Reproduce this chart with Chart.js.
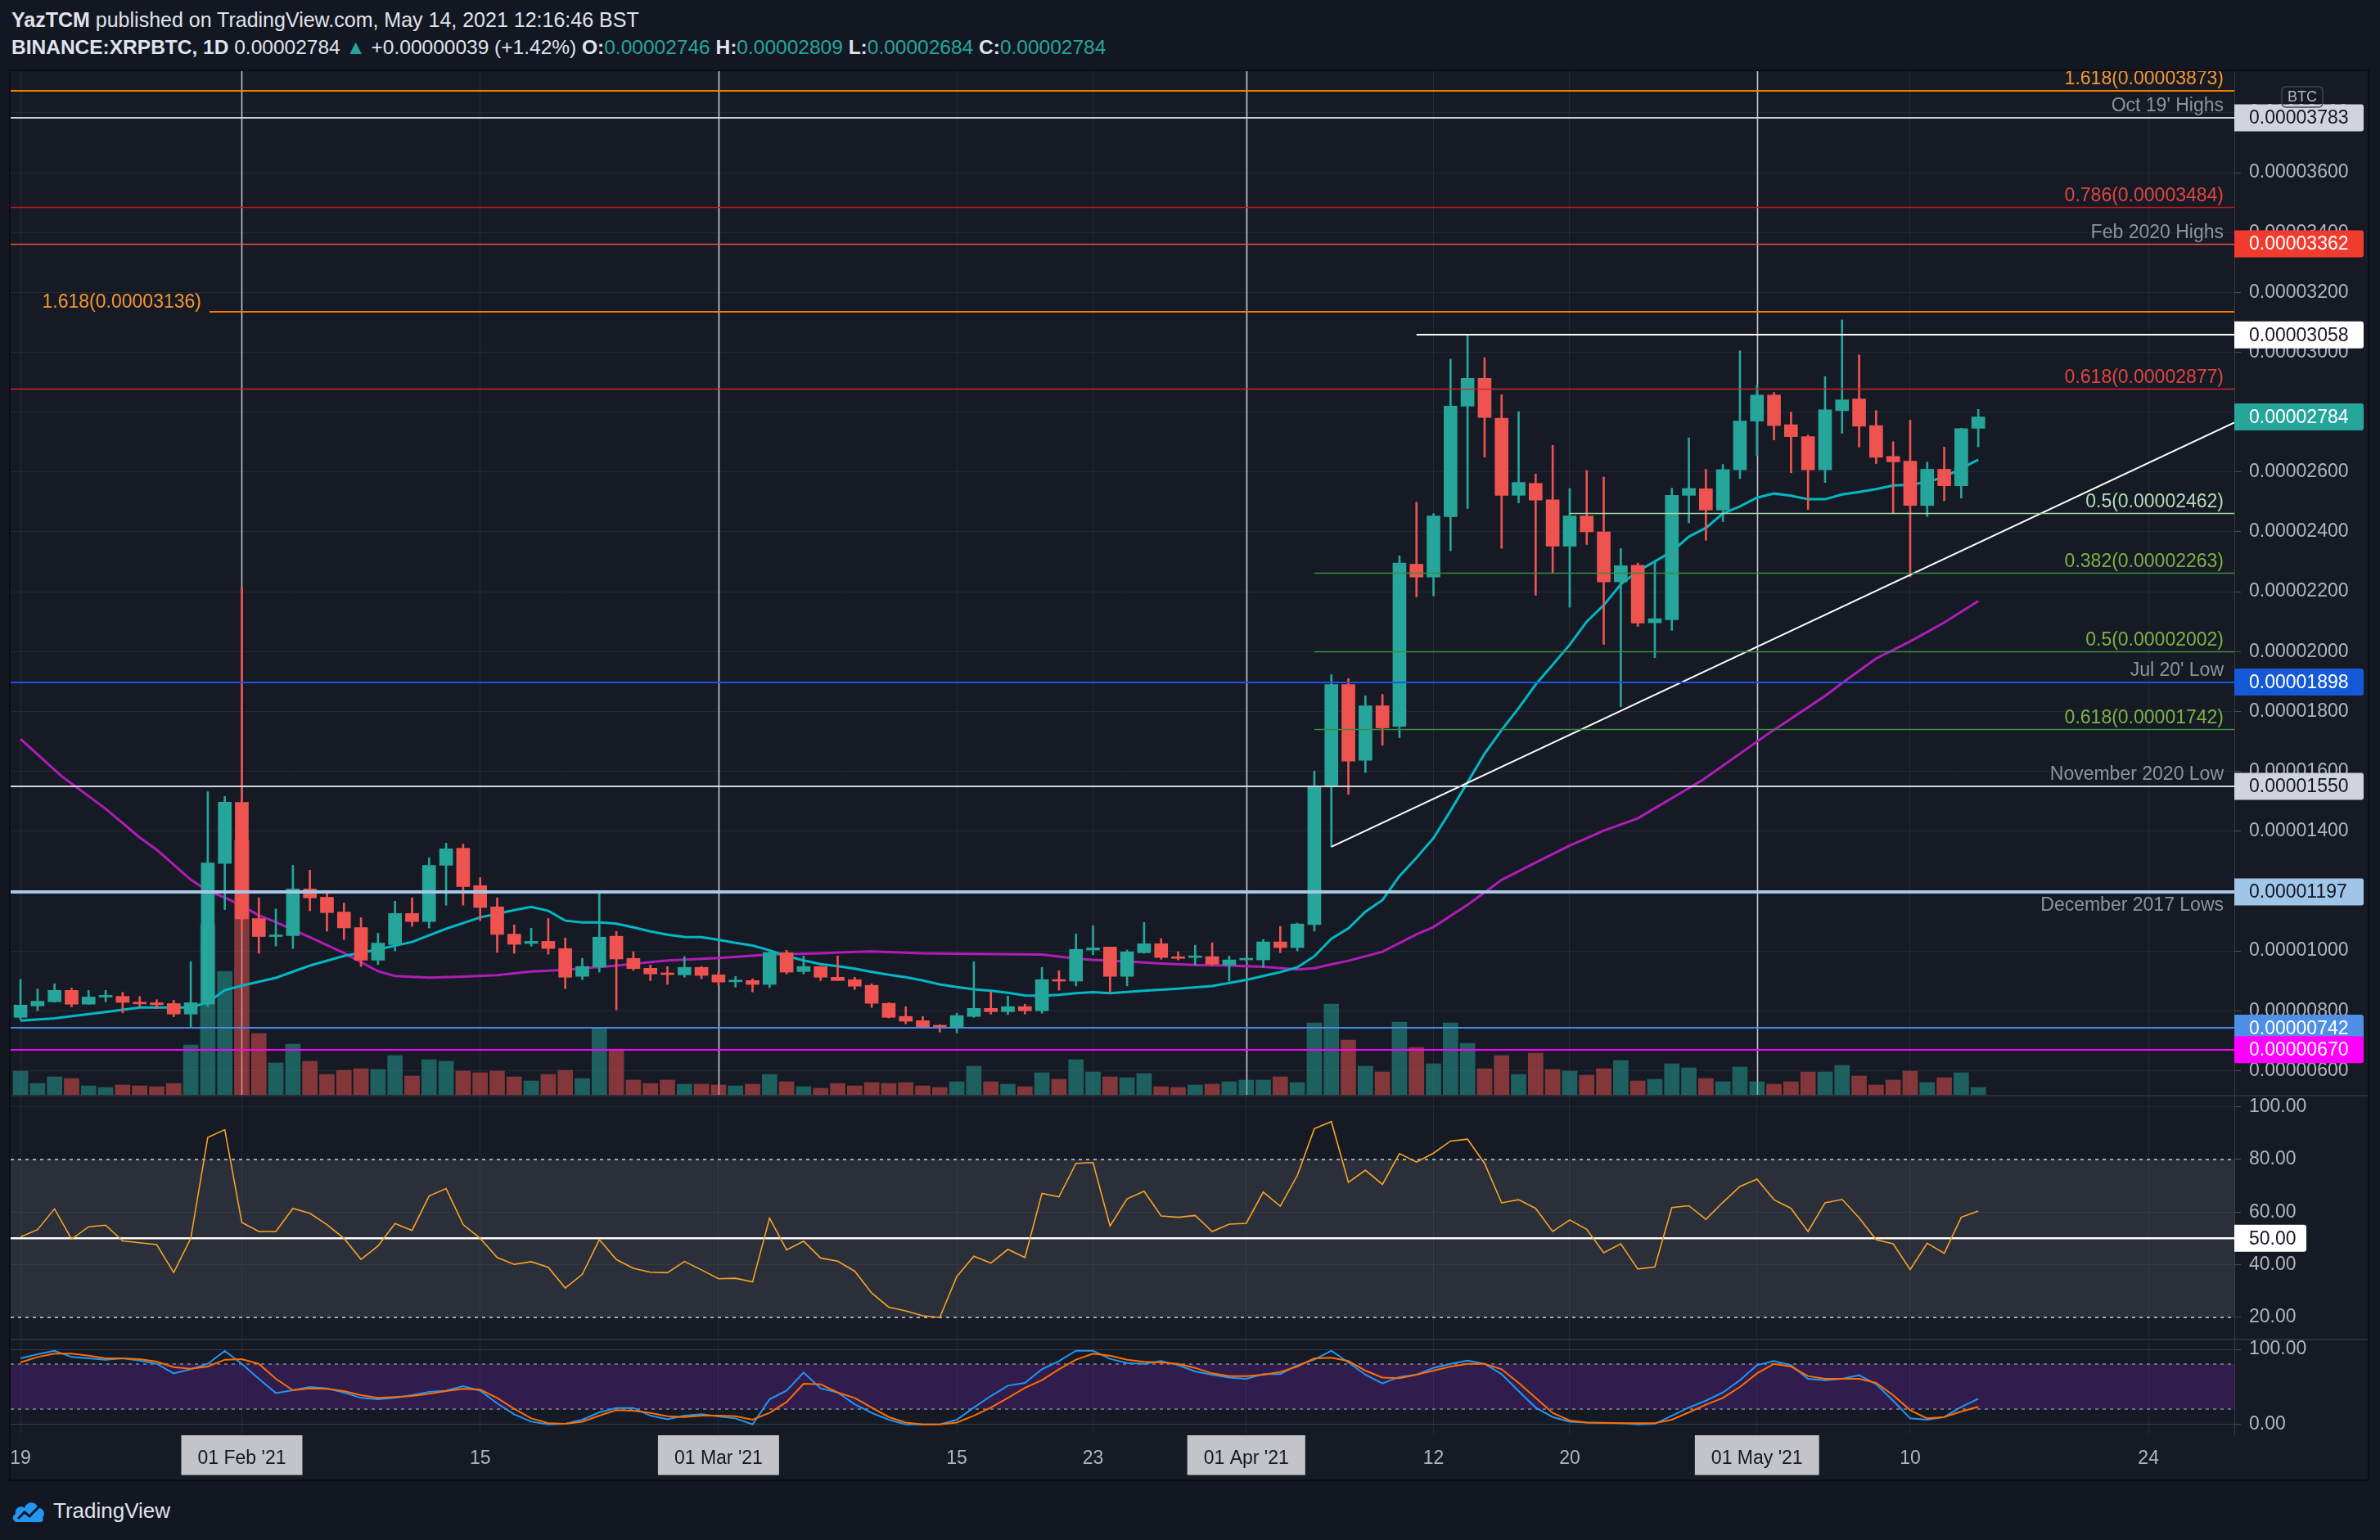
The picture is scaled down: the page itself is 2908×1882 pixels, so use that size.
<!DOCTYPE html>
<html>
<head>
<meta charset="utf-8">
<title>BINANCE:XRPBTC, 1D</title>
<script src="https://cdn.jsdelivr.net/npm/chart.js@4.4.0/dist/chart.umd.min.js"></script>
<style>
    html, body { margin: 0; padding: 0; background: #131722; }
    body {
        width: 2908px; height: 1882px; overflow: hidden; position: relative;
        font-family: 'Liberation Sans', Arial, sans-serif; color: #e0e3eb;
    }
    .header { position: absolute; left: 14px; font-size: 25px; line-height: 30px; white-space: nowrap; }
    #line1 { top: 9px; }
    #line2 { top: 43px; font-size: 24.5px; }
    .up { color: #26a69a; }
    #frame {
        position: absolute; left: 11px; top: 85px; width: 2880px; height: 1721px;
        border: 2px solid #0b0d13; background: #2a2e39;
    }
    #frame canvas { position: absolute; left: 0; background: #161a25; }
    #footer { position: absolute; left: 14px; top: 1829px; display: flex; align-items: center; font-size: 26px; color: #e0e3eb; }
    #footer svg { margin-right: 9px; }
</style>
</head>
<body>
<div class="header" id="line1"><b>YazTCM</b> published on TradingView.com, May 14, 2021 12:16:46 BST</div>
<div class="header" id="line2"><b>BINANCE:XRPBTC, 1D</b> 0.00002784 <span class="up">&#9650;</span> +0.00000039 (+1.42%) <b>O:</b><span class="up">0.00002746</span> <b>H:</b><span class="up">0.00002809</span> <b>L:</b><span class="up">0.00002684</span> <b>C:</b><span class="up">0.00002784</span></div>

<div id="frame">
    <canvas id="priceChart" width="2880" height="1251" style="top:0"></canvas>
    <canvas id="rsiChart" width="2880" height="296" style="top:1253px"></canvas>
    <canvas id="stochChart" width="2880" height="170" style="top:1551px"></canvas>
</div>

<div id="footer">
    <svg width="42" height="34" viewBox="0 0 42 34"><path d="M7 31 C1 31 0 23 5 21 C4 13 12 10 16 14 C18 5 31 5 32 14 C39 13 42 21 38 26 C40 30 37 31 35 31 Z" fill="#2196f3"/><path d="M8 27 L16 19 L22 24 L33 13" stroke="#131722" stroke-width="3" fill="none"/></svg>
    <span>TradingView</span>
</div>

<script>
/**=================
 * Data
 * prices in satoshi (1 = 0.00000001 BTC), day 0 = 19 Jan 2021
 =================*/
const openSat = [
    778, 816, 830, 868, 822, 846, 848, 829, 827, 824,
    789, 822, 1292, 1496, 1108, 1048, 1051, 1207, 1179, 1130,
    1078, 969, 1021, 1125, 1098, 1286, 1343, 1218, 1147, 1056,
    1025, 1032, 1008, 915, 946, 1049, 975, 942, 923, 920,
    945, 920, 897, 901, 888, 994, 931, 948, 912, 904,
    885, 825, 781, 767, 748, 746, 781, 808, 797, 814,
    800, 904, 899, 1003, 1013, 915, 994, 1024, 980, 978,
    981, 953, 970, 970, 1030, 1011, 1088, 1551, 1890, 1637,
    1819, 1750, 2292, 2249, 2451, 2820, 2913, 2780, 2522, 2562,
    2507, 2352, 2453, 2400, 2233, 2288, 2096, 2106, 2522, 2544,
    2473, 2607, 2770, 2857, 2758, 2718, 2607, 2805, 2844, 2755,
    2652, 2636, 2488, 2609, 2554, 2746
];
const highSat = [
    905, 873, 890, 876, 868, 868, 862, 848, 837, 835,
    964, 1532, 1516, 2215, 1177, 1140, 1286, 1270, 1195, 1160,
    1111, 1059, 1166, 1177, 1311, 1360, 1357, 1245, 1177, 1087,
    1076, 1108, 1043, 975, 1197, 1065, 997, 953, 948, 981,
    948, 929, 915, 907, 998, 1002, 983, 948, 983, 912,
    890, 827, 814, 781, 754, 792, 964, 863, 849, 822,
    945, 934, 1057, 1084, 1013, 1003, 1095, 1041, 997, 1019,
    1027, 983, 973, 1038, 1082, 1093, 1601, 1923, 1910, 1852,
    1857, 2320, 2499, 2461, 2977, 3057, 2982, 2858, 2802, 2593,
    2689, 2545, 2605, 2583, 2344, 2296, 2298, 2546, 2714, 2609,
    2625, 3005, 2890, 2866, 2800, 2723, 2919, 3108, 2991, 2805,
    2701, 2773, 2633, 2683, 2746, 2809
];
const lowSat = [
    770, 800, 829, 813, 822, 830, 793, 814, 807, 780,
    746, 814, 1138, 1065, 992, 1016, 1008, 1134, 1066, 1038,
    948, 954, 1000, 1082, 1077, 1153, 1153, 1101, 995, 992,
    1016, 989, 874, 904, 929, 803, 935, 901, 888, 912,
    907, 885, 879, 863, 877, 923, 923, 901, 901, 871,
    811, 776, 756, 746, 729, 726, 778, 789, 787, 789,
    792, 869, 883, 987, 859, 883, 992, 972, 970, 953,
    951, 899, 966, 945, 994, 1000, 1066, 1348, 1523, 1596,
    1687, 1712, 2183, 2186, 2337, 2478, 2650, 2345, 2497, 2188,
    2262, 2148, 2358, 2024, 1816, 2084, 1980, 2071, 2430, 2372,
    2434, 2578, 2655, 2707, 2597, 2475, 2565, 2729, 2683, 2628,
    2461, 2250, 2451, 2504, 2513, 2684
];
const closeSat = [
    819, 832, 868, 822, 846, 848, 828, 823, 820, 789,
    827, 1294, 1497, 1107, 1048, 1051, 1207, 1177, 1128, 1077,
    969, 1026, 1125, 1098, 1286, 1341, 1215, 1145, 1055, 1022,
    1032, 1008, 912, 948, 1046, 973, 941, 923, 921, 945,
    918, 896, 899, 888, 995, 929, 948, 912, 901, 882,
    825, 778, 765, 746, 746, 784, 808, 797, 814, 800,
    904, 899, 1005, 1010, 915, 997, 1024, 978, 975, 983,
    956, 970, 971, 1030, 1011, 1090, 1551, 1890, 1634, 1819,
    1745, 2296, 2249, 2453, 2820, 2913, 2782, 2522, 2565, 2506,
    2352, 2453, 2400, 2233, 2287, 2095, 2110, 2522, 2545, 2473,
    2608, 2770, 2857, 2755, 2718, 2607, 2808, 2841, 2753, 2649,
    2634, 2488, 2609, 2554, 2745, 2784
];
const volume = [
    29, 14, 22, 20, 11, 9, 12, 11, 10, 14,
    61, 208, 151, 311, 75, 39, 62, 41, 25, 30,
    32, 31, 48, 23, 43, 41, 29, 27, 29, 22,
    17, 25, 30, 20, 81, 56, 18, 14, 18, 13,
    13, 12, 11, 13, 25, 16, 10, 8, 14, 11,
    15, 14, 15, 11, 9, 16, 35, 16, 13, 10,
    27, 19, 43, 28, 22, 21, 26, 10, 9, 12,
    13, 16, 18, 18, 22, 15, 88, 111, 67, 35,
    28, 89, 58, 38, 88, 63, 32, 48, 25, 51,
    31, 29, 24, 32, 42, 17, 19, 38, 33, 20,
    16, 34, 16, 13, 16, 28, 28, 36, 23, 12,
    18, 29, 15, 21, 27, 9
];

// cyan moving average
const emaDays = [
    0, 2, 5, 7, 10, 11, 12, 13, 15, 17, 19, 21, 23, 25, 27, 29,
    30, 31, 32, 33, 34, 35, 36, 37, 38, 39, 40, 41, 42, 43, 44, 45, 46, 47, 48, 49,
    50, 51, 52, 53, 54, 55, 56, 57, 58, 59, 60, 61, 62, 63, 64, 66, 68, 70, 72, 74,
    75, 76, 77, 78, 79, 80, 81, 82, 83, 84, 85, 86, 87, 88, 89, 90, 91, 92, 93, 94,
    95, 96, 97, 98, 99, 100, 101, 102, 103, 104, 105, 106, 107, 108, 109, 110, 111, 112, 113, 114, 115
];
const emaSat = [
    767, 775, 796, 811, 811, 828, 869, 884, 910, 951, 983, 1005, 1030, 1074, 1112, 1136,
    1147, 1134, 1101, 1095, 1095, 1091, 1079, 1065, 1054, 1047, 1046, 1037, 1027, 1018, 1002, 983, 968, 956, 949, 941,
    930, 920, 912, 901, 888, 879, 872, 867, 860, 851, 850, 853, 859, 862, 859, 867, 874, 883, 903, 929,
    945, 982, 1041, 1075, 1131, 1170, 1250, 1311, 1377, 1468, 1563, 1659, 1738, 1811, 1890, 1956, 2023, 2100, 2155, 2225,
    2269, 2301, 2334, 2384, 2413, 2461, 2485, 2514, 2528, 2521, 2509, 2509, 2525, 2533, 2543, 2555, 2557, 2567, 2583, 2612, 2641
];

// magenta moving average
const smaDays = [
    0, 2.4, 5, 7, 8, 10, 11, 12, 13, 14, 15, 17, 19, 21, 22, 24, 26, 28, 30, 32,
    35, 38, 41, 44, 47, 49, 50, 53, 56, 60, 62, 63, 65, 67, 69, 71, 73, 75, 76, 77,
    78, 80, 82, 83, 85, 87, 89, 91, 93, 95, 96, 97, 98.8, 102.6, 104, 106, 107, 109, 111, 113, 115
];
const smaSat = [
    1708, 1584, 1475, 1379, 1338, 1238, 1201, 1178, 1151, 1119, 1096, 1046, 993, 932, 916, 911, 914, 919, 931, 937,
    951, 968, 976, 988, 992, 997, 998, 992, 990, 988, 974, 970, 965, 958, 953, 951, 947, 938, 942, 955,
    967, 997, 1055, 1080, 1154, 1237, 1295, 1352, 1402, 1443, 1477, 1510, 1571, 1723, 1776, 1852, 1895, 1977, 2034, 2097, 2169
];

const rsiValues = [
    50.5, 53.3, 61.2, 49.7, 54.4, 55, 49, 48.3, 47.6, 37,
    50, 88.4, 91.3, 56, 52.6, 52.6, 61.4, 59.5, 55.2, 50,
    42, 47.1, 55.6, 53, 66.1, 68.9, 55.2, 50, 42.7, 40.1,
    41.1, 39, 31.1, 36.3, 49.5, 41.9, 38.6, 37.1, 36.9, 41.2,
    38, 34.6, 34.8, 33.4, 57.7, 45.6, 48.9, 42.5, 41.3, 37.5,
    29.2, 23.8, 22.4, 20.5, 19.9, 35.5, 43.2, 40.6, 45.8, 42.7,
    67.1, 65.8, 78.5, 78.8, 54.7, 65, 67.9, 58.5, 58, 58.7,
    52.6, 55.4, 55.7, 67.6, 62.2, 73.9, 91.7, 94.4, 71.3, 75.9,
    70.5, 82.2, 79, 82.4, 87, 87.7, 78.5, 63.5, 64.7, 61.4,
    52.6, 57, 53.4, 44.5, 47.9, 38.3, 39.1, 61.7, 62.4, 57.2,
    63.7, 69.7, 72.5, 64.7, 61.4, 52.6, 63.5, 64.8, 57.8, 49.5,
    47.9, 38.1, 48.1, 44.3, 58, 60.4
];
const stochK = [
    88, 93.5, 98, 89.8, 88, 86, 88, 85, 80.7, 68,
    73.5, 80.7, 97.8, 80.7, 60.7, 41.8, 45.5, 49.8, 48, 42.5,
    35.3, 33.5, 35.3, 38.9, 43.3, 45, 51, 45, 28, 13.5,
    3.6, 0, 0.7, 6.2, 16, 21.8, 21.8, 11.6, 6.9, 11.6,
    13.5, 10.5, 8, 0, 33.5, 45, 69.1, 48, 42.5, 26.9,
    15.3, 6.2, 0, 0, 0, 6.2, 22.5, 37.8, 51.6, 55.3,
    73.5, 84.4, 98.2, 98.2, 87.3, 81.8, 80.7, 84.4, 78.9, 70.5,
    66.2, 62.5, 60.7, 66.9, 66.9, 78.9, 86.2, 98.2, 82.5, 66.2,
    54.5, 63.3, 66.2, 75.3, 80.7, 85.1, 80.7, 66.9, 44.4, 22.5,
    9.8, 3.6, 2.5, 1.8, 1.5, 0, 0.7, 11.6, 22.5, 31.6,
    42.5, 58.9, 78.9, 84.4, 78.9, 60.7, 58.9, 60.7, 65.5, 53.5,
    31.6, 8, 6.2, 9.8, 23.3, 34.2
];
const stochD = [
    82.5, 89.8, 94.2, 94.2, 91.6, 88, 88, 86.9, 83.6, 76.4,
    74.2, 77.1, 86.2, 86.9, 80.7, 60.7, 45.5, 48, 47.3, 44.4,
    38.9, 35.3, 36.4, 37.8, 40.7, 44.4, 47.3, 46.2, 35.3, 20.7,
    8, 1.5, 0.7, 3.6, 11.6, 18.9, 18.2, 15.3, 10.9, 9.8,
    11.6, 11.6, 10.9, 6.2, 15.3, 29.8, 54.2, 53.5, 42.5, 35.3,
    22.5, 9.8, 2.5, 0, 0, 2.5, 11.6, 22.5, 35.3, 48.7,
    58.9, 73.5, 86.2, 94.2, 91.6, 86.2, 83.3, 82.5, 80.7, 75.3,
    68, 64.4, 64.4, 66.2, 69.8, 77.1, 88, 88.7, 84.4, 71.6,
    62.5, 61.5, 66.2, 71.6, 77.1, 80.7, 80.7, 73.5, 55.3, 35.3,
    15.3, 5.1, 2.5, 2.2, 1.5, 1.5, 1.5, 6.2, 16, 26.2,
    35.3, 49.8, 68, 80.7, 77.1, 64.4, 60.7, 60.7, 60.7, 55.3,
    38.9, 18.9, 8, 9.8, 17.1, 23.3
];

const tickDays = [0, 13, 27, 41, 55, 63, 72, 83, 91, 102, 111, 125];
const tickLabels = ['19', "01 Feb '21", '15', "01 Mar '21", '15', '23', "01 Apr '21", '12', '20', "01 May '21", '10', '24'];
const markedDays = [13, 41, 72, 102];
const priceTicks = [600, 800, 1000, 1200, 1400, 1600, 1800, 2000, 2200, 2400, 2600, 2800, 3000, 3200, 3400, 3600, 3800];
const rsiTicks = [20, 40, 60, 80, 100];
const stochTicks = [0, 100];

// horizontal levels drawn by the author
const levelSat = [3873, 3783, 3484, 3362, 3136, 3058, 2877, 2462, 2263, 2002, 1898, 1742, 1550, 1197, 742, 670];
const levelNames = [
    '1.618(0.00003873)', "Oct 19' Highs", '0.786(0.00003484)', 'Feb 2020 Highs', '1.618(0.00003136)', '',
    '0.618(0.00002877)', '0.5(0.00002462)', '0.382(0.00002263)', '0.5(0.00002002)', "Jul 20' Low",
    '0.618(0.00001742)', 'November 2020 Low', 'December 2017 Lows', '', ''
];
const levelFromDay = [null, null, null, null, 11.1, 82, null, 91, 76, 76, null, 76, null, null, null, null];
const trendDays = [77, 130.04];
const trendSat = [1348, 2765];

/**=================
 * Styles & helpers
 =================*/
const UP = '#26a69a';
const DOWN = '#ef5350';
const UP_VOL = 'rgba(38,166,154,0.5)';
const DOWN_VOL = 'rgba(239,83,80,0.5)';
const GRID = '#242834';
const TEXT = '#b2b5be';
const LABEL = '#8f929b';
const FONT = "'Liberation Sans', Arial, sans-serif";
const AXIS_W = 163;
const X_MIN = -0.58;
const X_MAX = 130.04;

Chart.defaults.font.family = FONT;
Chart.defaults.font.size = 23;
Chart.defaults.color = TEXT;

const levelStyles = [
    { line: '#f57c00', width: 2, text: '#f5962f', place: 'above' },
    { line: '#c8cbd3', width: 2, text: LABEL, place: 'above', box: ['#d1d4dc', '#131722'] },
    { line: '#b71c1c', width: 1.5, text: '#e0453f', place: 'above' },
    { line: '#e8513c', width: 1.5, text: LABEL, place: 'above', box: ['#f23b2f', '#ffffff'] },
    { line: '#f57c00', width: 2, text: '#f5962f', place: 'left' },
    { line: '#ffffff', width: 2, text: LABEL, place: 'above', box: ['#ffffff', '#131722'] },
    { line: '#c62828', width: 1.5, text: '#e0453f', place: 'above' },
    { line: '#a5d6a7', width: 1.5, text: '#b5dcb6', place: 'above' },
    { line: '#388e3c', width: 1.5, text: '#7cb342', place: 'above' },
    { line: '#388e3c', width: 1.5, text: '#7cb342', place: 'above' },
    { line: '#1e53e5', width: 2, text: LABEL, place: 'above', box: ['#1659d6', '#ffffff'] },
    { line: '#388e3c', width: 1.5, text: '#7cb342', place: 'above' },
    { line: '#d1d4dc', width: 2, text: LABEL, place: 'above', box: ['#d1d4dc', '#131722'] },
    { line: '#a7c7e7', width: 4, text: LABEL, place: 'below', box: ['#9fc5e8', '#131722'] },
    { line: '#4a86e8', width: 2, text: LABEL, place: 'above', box: ['#4f8fe6', '#ffffff'] },
    { line: '#ff00ff', width: 2, text: LABEL, place: 'above', box: ['#ff00ff', '#ffffff'] }
];

const days = openSat.map((_, i) => i);
const isUp = i => closeSat[i] >= openSat[i];
const candleColors = days.map(i => isUp(i) ? UP : DOWN);
const volumeColors = days.map(i => isUp(i) ? UP_VOL : DOWN_VOL);
const satToBtc = v => (v / 1e8).toFixed(8);

function timeScale(showLabels) {
    return {
        type: 'linear',
        min: X_MIN,
        max: X_MAX,
        offset: false,
        afterBuildTicks: s => { s.ticks = tickDays.map(v => ({ value: v })); },
        afterFit: s => { s.height = showLabels ? 55 : 0; s.paddingLeft = 0; s.paddingRight = 0; },
        grid: { color: GRID, drawTicks: false, offset: false },
        border: { display: false },
        ticks: {
            display: showLabels,
            autoSkip: false,
            maxRotation: 0,
            padding: 16,
            callback: (v, i) => tickLabels[i],
            color: ctx => markedDays.includes(tickDays[ctx.index]) ? '#131722' : TEXT,
            showLabelBackdrop: ctx => markedDays.includes(tickDays[ctx.index]),
            backdropColor: '#c3c4c9',
            backdropPadding: { top: 15, bottom: 6, left: 20, right: 20 }
        }
    };
}

function valueScale(min, max, values, format, gridColor) {
    return {
        position: 'right',
        min: min,
        max: max,
        afterBuildTicks: s => { s.ticks = values.map(v => ({ value: v })); },
        afterFit: s => { s.width = AXIS_W; s.paddingTop = 0; s.paddingBottom = 0; },
        grid: { color: gridColor || GRID, tickColor: '#4a4e59', tickLength: 8 },
        border: { color: '#363a45' },
        ticks: { autoSkip: false, padding: 10, callback: format }
    };
}

function axisBox(ctx, area, py, bg, fg, text, width) {
    ctx.fillStyle = bg;
    ctx.beginPath();
    ctx.roundRect(area.right, py - 16.5, width, 33, [0, 3, 3, 0]);
    ctx.fill();
    ctx.fillStyle = fg;
    ctx.font = `23px ${FONT}`;
    ctx.textAlign = 'left';
    ctx.textBaseline = 'middle';
    ctx.fillText(text, area.right + 18, py + 1);
}

function hLine(ctx, x0, x1, py) {
    ctx.beginPath();
    ctx.moveTo(x0, py);
    ctx.lineTo(x1, py);
    ctx.stroke();
}

const baseOptions = {
    responsive: false,
    animation: false,
    devicePixelRatio: 1,
    layout: { padding: 0, autoPadding: false },
    plugins: { legend: { display: false }, tooltip: { enabled: false } }
};

/**=================
 * Price pane drawings
 =================*/
const priceDrawings = {
    id: 'priceDrawings',
    beforeDatasetsDraw(chart) {
        const { ctx, chartArea: a, scales: { x } } = chart;
        ctx.save();
        ctx.strokeStyle = '#c9ccd4';
        ctx.lineWidth = 1.5;
        markedDays.forEach(d => {
            const px = Math.round(x.getPixelForValue(d)) + 0.5;
            ctx.beginPath();
            ctx.moveTo(px, a.top);
            ctx.lineTo(px, a.bottom);
            ctx.stroke();
        });
        ctx.restore();
    },
    afterDatasetsDraw(chart) {
        const { ctx, chartArea: a, scales: { x, y } } = chart;
        ctx.save();
        ctx.beginPath();
        ctx.rect(a.left, a.top, a.width, a.height);
        ctx.clip();

        // trend line
        ctx.strokeStyle = '#ffffff';
        ctx.lineWidth = 2;
        ctx.beginPath();
        ctx.moveTo(x.getPixelForValue(trendDays[0]), y.getPixelForValue(trendSat[0]));
        ctx.lineTo(x.getPixelForValue(trendDays[1]), y.getPixelForValue(trendSat[1]));
        ctx.stroke();

        // levels
        ctx.font = `23px ${FONT}`;
        levelSat.forEach((lv, k) => {
            const st = levelStyles[k];
            const py = Math.round(y.getPixelForValue(lv)) + (st.width % 2 ? 0.5 : 0);
            const x0 = levelFromDay[k] === null ? a.left : x.getPixelForValue(levelFromDay[k]);
            ctx.strokeStyle = st.line;
            ctx.lineWidth = st.width;
            hLine(ctx, x0, a.right, py);
            if (!levelNames[k]) return;
            ctx.fillStyle = st.text;
            ctx.textBaseline = 'middle';
            ctx.textAlign = 'right';
            if (st.place === 'left') {
                ctx.fillText(levelNames[k], x0 - 10, py - 11);
            } else {
                ctx.fillText(levelNames[k], a.right - 13, st.place === 'below' ? py + 17 : py - 14);
            }
        });
        ctx.restore();
    },
    afterDraw(chart) {
        const { ctx, chartArea: a, scales: { y } } = chart;
        ctx.save();
        levelSat.forEach((lv, k) => {
            const box = levelStyles[k].box;
            if (box) axisBox(ctx, a, y.getPixelForValue(lv), box[0], box[1], satToBtc(lv), 158);
        });
        const last = closeSat[closeSat.length - 1];
        axisBox(ctx, a, y.getPixelForValue(last), UP, '#ffffff', satToBtc(last), 158);

        // currency badge
        ctx.strokeStyle = '#434651';
        ctx.lineWidth = 1.5;
        ctx.beginPath();
        ctx.roundRect(a.right + 58, 19, 50, 25, 5);
        ctx.stroke();
        ctx.fillStyle = TEXT;
        ctx.font = `18px ${FONT}`;
        ctx.textAlign = 'center';
        ctx.textBaseline = 'middle';
        ctx.fillText('BTC', a.right + 83, 32);
        ctx.restore();
    }
};

/**=================
 * Price Chart
 =================*/
const priceChart = new Chart(document.getElementById('priceChart'), {
    type: 'bar',
    data: {
        datasets: [
            {
                label: 'Volume',
                data: days.map(i => ({ x: i, y: volume[i] })),
                yAxisID: 'yVol',
                backgroundColor: volumeColors,
                barThickness: 18,
                grouped: false,
                order: 6
            },
            {
                type: 'line',
                label: 'MA fast',
                data: emaDays.map((d, k) => ({ x: d, y: emaSat[k] })),
                yAxisID: 'y',
                borderColor: '#00b8c4',
                borderWidth: 3,
                pointRadius: 0,
                order: 4
            },
            {
                type: 'line',
                label: 'MA slow',
                data: smaDays.map((d, k) => ({ x: d, y: smaSat[k] })),
                yAxisID: 'y',
                borderColor: '#b01cb6',
                borderWidth: 3,
                pointRadius: 0,
                order: 4
            },
            {
                label: 'Wick',
                data: days.map(i => ({ x: i, y: [lowSat[i], highSat[i]] })),
                yAxisID: 'y',
                backgroundColor: candleColors,
                barThickness: 2,
                grouped: false,
                order: 2
            },
            {
                label: 'Body',
                data: days.map(i => ({ x: i, y: [openSat[i], closeSat[i]] })),
                yAxisID: 'y',
                backgroundColor: candleColors,
                barThickness: 16,
                minBarLength: 2,
                grouped: false,
                order: 1
            }
        ]
    },
    options: {
        ...baseOptions,
        scales: {
            x: timeScale(false),
            y: valueScale(519.1, 3939, priceTicks, v => satToBtc(v)),
            yVol: { display: false, min: 0, max: 1251 }
        }
    },
    plugins: [priceDrawings]
});

/**=================
 * RSI Chart
 =================*/
const rsiBands = {
    id: 'rsiBands',
    beforeDatasetsDraw(chart) {
        const { ctx, chartArea: a, scales: { y } } = chart;
        const y80 = Math.round(y.getPixelForValue(80));
        const y20 = Math.round(y.getPixelForValue(20));
        ctx.save();
        ctx.fillStyle = 'rgba(120,123,134,0.22)';
        ctx.fillRect(a.left, y80, a.width, y20 - y80);
        ctx.setLineDash([4, 5]);
        ctx.strokeStyle = '#a3a6af';
        ctx.lineWidth = 2;
        hLine(ctx, a.left, a.right, y80);
        hLine(ctx, a.left, a.right, y20);
        ctx.setLineDash([]);
        ctx.strokeStyle = '#ffffff';
        ctx.lineWidth = 2.5;
        hLine(ctx, a.left, a.right, y.getPixelForValue(50));
        ctx.restore();
    },
    afterDraw(chart) {
        const { ctx, chartArea: a, scales: { y } } = chart;
        ctx.save();
        axisBox(ctx, a, y.getPixelForValue(50), '#ffffff', '#131722', '50.00', 88);
        ctx.restore();
    }
};

const rsiChart = new Chart(document.getElementById('rsiChart'), {
    type: 'line',
    data: {
        datasets: [{
            label: 'RSI',
            data: days.map(i => ({ x: i, y: rsiValues[i] })),
            borderColor: '#f7a325',
            borderWidth: 1.6,
            pointRadius: 0
        }]
    },
    options: {
        ...baseOptions,
        scales: {
            x: timeScale(false),
            y: valueScale(11.81, 103.95, rsiTicks, v => v.toFixed(2),
                ctx => [40, 60, 100].includes(ctx.tick.value) ? GRID : 'transparent')
        }
    },
    plugins: [rsiBands]
});

/**=================
 * Stoch RSI Chart
 =================*/
const stochBands = {
    id: 'stochBands',
    beforeDatasetsDraw(chart) {
        const { ctx, chartArea: a, scales: { y } } = chart;
        const y80 = Math.round(y.getPixelForValue(80));
        const y20 = Math.round(y.getPixelForValue(20));
        ctx.save();
        ctx.fillStyle = 'rgba(126,40,200,0.25)';
        ctx.fillRect(a.left, y80, a.width, y20 - y80);
        ctx.setLineDash([4, 5]);
        ctx.strokeStyle = '#6f6a80';
        ctx.lineWidth = 2;
        hLine(ctx, a.left, a.right, y80);
        hLine(ctx, a.left, a.right, y20);
        ctx.restore();
    }
};

const stochChart = new Chart(document.getElementById('stochChart'), {
    type: 'line',
    data: {
        datasets: [
            {
                label: 'K',
                data: days.map(i => ({ x: i, y: stochK[i] })),
                borderColor: '#2196f3',
                borderWidth: 2,
                pointRadius: 0,
                order: 2
            },
            {
                label: 'D',
                data: days.map(i => ({ x: i, y: stochD[i] })),
                borderColor: '#ff6d00',
                borderWidth: 2,
                pointRadius: 0,
                order: 1
            }
        ]
    },
    options: {
        ...baseOptions,
        scales: {
            x: timeScale(true),
            y: valueScale(-13.41, 112, stochTicks, v => v.toFixed(2), '#363a45')
        }
    },
    plugins: [stochBands]
});
</script>
</body>
</html>
